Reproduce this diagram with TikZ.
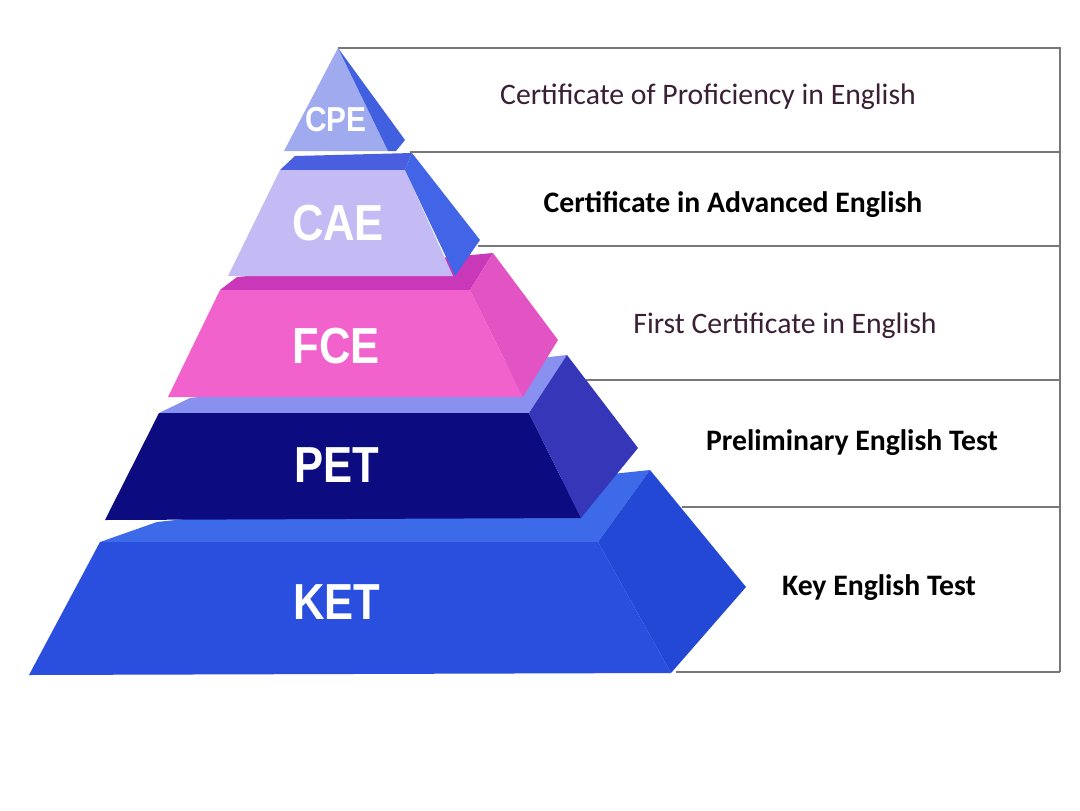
\documentclass[tikz,border=0pt]{standalone}
\usepackage{fontspec}
\usepackage{tikz}
\newfontfamily\tierfont{Liberation Sans}
\newfontfamily\namefont{Carlito}
\definecolor{cpefront}{RGB}{160,170,238}
\definecolor{cpeside}{RGB}{64,96,224}
\definecolor{caetop}{RGB}{74,94,224}
\definecolor{caefront}{RGB}{196,186,244}
\definecolor{caeside}{RGB}{66,100,230}
\definecolor{fcetop}{RGB}{200,56,184}
\definecolor{fcefront}{RGB}{242,98,204}
\definecolor{fceside}{RGB}{226,84,196}
\definecolor{pettop}{RGB}{136,144,240}
\definecolor{petfront}{RGB}{12,12,128}
\definecolor{petside}{RGB}{54,54,184}
\definecolor{kettop}{RGB}{60,106,232}
\definecolor{ketfront}{RGB}{42,78,222}
\definecolor{ketside}{RGB}{36,72,214}
\definecolor{namedark}{RGB}{58,31,53}
\definecolor{rulegray}{RGB}{120,120,120}

\newcommand{\tiertext}[1]{\scalebox{0.86}[1]{#1}}

\tikzset{
  tier/.style={font=\tierfont\bfseries\fontsize{38}{38}\selectfont,text=white},
  certname/.style={font=\namefont\fontsize{22.3}{24}\selectfont,text=namedark},
  certbold/.style={font=\namefont\bfseries\fontsize{22.3}{24}\selectfont,text=black},
  rowrule/.style={draw=rulegray,line width=1pt}
}

\begin{document}
\begin{tikzpicture}[x=0.75pt,y=-0.75pt]
\useasboundingbox (0,0) rectangle (1080,810);
\fill[white] (0,0) rectangle (1080,810);

\coordinate (apex) at (338,48);
\coordinate (cpe-r) at (410,152);
\coordinate (cae-r) at (478,246);
\coordinate (fce-r) at (586,380);
\coordinate (pet-r) at (682,507);
\coordinate (ket-r) at (676,672);
\coordinate (top-e) at (1060,48);
\coordinate (bot-e) at (1060,672);

\foreach \r in {cpe-r,cae-r,fce-r,pet-r,ket-r}
  \draw[rowrule] (\r) -- (\r -| top-e);
\draw[rowrule] (apex) -- (top-e) -- (bot-e);

% KET
\fill[kettop] (157,522) -- (650,470) -- (598,542) -- (100,542) -- cycle;
\fill[ketfront] (100,542) -- (598,542) -- (671,673) -- (29,675) -- cycle;
\fill[ketside] (650,470) -- (746,587) -- (671,673) -- (598,542) -- cycle;
% PET
\fill[pettop] (190,398) -- (567,355) -- (529,413) -- (159,413) -- cycle;
\fill[petfront] (159,413) -- (529,413) -- (581,518) -- (105,520) -- cycle;
\fill[petside] (567,355) -- (638,448) -- (581,518) -- (529,413) -- cycle;
% FCE
\fill[fcetop] (237,277) -- (493,253) -- (470,290) -- (220,290) -- cycle;
\fill[fcefront] (220,290) -- (470,290) -- (523,397) -- (168,397) -- cycle;
\fill[fceside] (493,253) -- (558,340) -- (523,397) -- (470,290) -- cycle;
% CAE
\fill[caetop] (295,156) -- (412,153) -- (405,170) -- (280,170) -- cycle;
\fill[caefront] (280,170) -- (405,170) -- (453,276) -- (228,276) -- cycle;
\fill[caeside] (412,153) -- (480,240) -- (455,276) -- (405,170) -- cycle;
% CPE
\fill[cpefront] (apex) -- (284,151) -- (388,151) -- cycle;
\fill[cpeside] (apex) -- (405,140) -- (396,151) -- (388,151) -- cycle;

\node[tier,font=\tierfont\bfseries\fontsize{26}{26}\selectfont] (cpe) at (336,120) {\tiertext{CPE}};
\node[tier] (cae) at (338,223) {\tiertext{CAE}};
\node[tier] (fce) at (336,346) {\tiertext{FCE}};
\node[tier] (pet) at (337,465) {\tiertext{PET}};
\node[tier] (ket) at (337,602) {\tiertext{KET}};

\node[certname] (cpe-name) at (708,97) {Certificate of Proficiency in English};
\node[certbold] (cae-name) at (733,205) {Certificate in Advanced English};
\node[certname] (fce-name) at (785,326) {First Certificate in English};
\node[certbold] (pet-name) at (852,443) {Preliminary English Test};
\node[certbold] (ket-name) at (879,588) {Key English Test};
\end{tikzpicture}
\end{document}
